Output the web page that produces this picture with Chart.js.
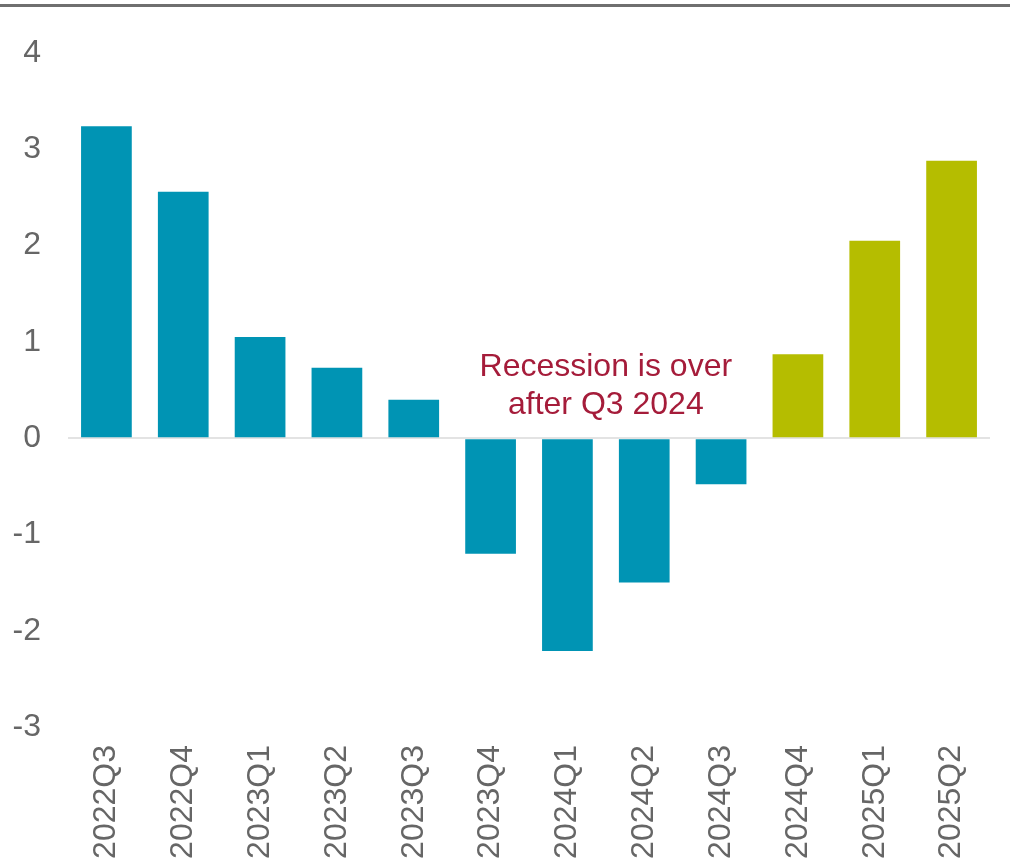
<!DOCTYPE html>
<html>
<head>
<meta charset="utf-8">
<script src="https://cdn.jsdelivr.net/npm/chart.js@4"></script>
<style>
  html, body { margin: 0; padding: 0; background: #fff; }
  #wrap { width: 1010px; height: 863px; }
</style>
</head>
<body>
<div id="wrap"><canvas id="chart" width="1010" height="863"></canvas></div>
<script>
const quarters = ['2022Q3', '2022Q4', '2023Q1', '2023Q2', '2023Q3', '2023Q4',
                  '2024Q1', '2024Q2', '2024Q3', '2024Q4', '2025Q1', '2025Q2'];
const growth = [3.24, 2.56, 1.05, 0.73, 0.40, -1.20, -2.21, -1.50, -0.48, 0.87, 2.05, 2.88];
const firstRecovery = '2024Q4';
const yTicks = [-3, -2, -1, 0, 1, 2, 3, 4];
const noteLines = ['Recession is over', 'after Q3 2024'];

const teal = '#0094b4';
const olive = '#b5bd00';
const grey = '#666666';
const font = '"Liberation Sans", Arial, sans-serif';

const recoveryIdx = quarters.indexOf(firstRecovery);
const barColors = quarters.map((q, i) => i >= recoveryIdx ? olive : teal);

// thick grey rule along the top + the red note
const extras = {
  id: 'extras',
  afterDraw(chart) {
    const ctx = chart.ctx;
    ctx.save();
    ctx.strokeStyle = '#6f6f6f';
    ctx.lineWidth = 3;
    ctx.beginPath();
    ctx.moveTo(0, 5.5);
    ctx.lineTo(chart.width, 5.5);
    ctx.stroke();

    const x = chart.scales.x.getPixelForValue(6.5);
    const y = chart.scales.y;
    ctx.fillStyle = '#a51c3a';
    ctx.font = '32px ' + font;
    ctx.textAlign = 'center';
    ctx.textBaseline = 'middle';
    ctx.fillText(noteLines[0], x, y.getPixelForValue(0.74));
    ctx.fillText(noteLines[1], x, y.getPixelForValue(0.34));
    ctx.restore();
  }
};

new Chart(document.getElementById('chart'), {
  type: 'bar',
  data: {
    labels: quarters,
    datasets: [{
      data: growth,
      backgroundColor: barColors,
      categoryPercentage: 1,
      barPercentage: 0.66
    }]
  },
  options: {
    responsive: false,
    animation: false,
    layout: { padding: { top: 53, left: 13, right: 20, bottom: 0 } },
    plugins: {
      legend: { display: false },
      tooltip: { enabled: false }
    },
    scales: {
      x: {
        grid: { display: false, drawTicks: false },
        border: { display: false },
        afterFit: (axis) => { axis.height = 136; },
        ticks: {
          color: grey,
          font: { family: font, size: 32 },
          minRotation: 90,
          maxRotation: 90,
          padding: 18
        }
      },
      y: {
        min: -3,
        max: 4,
        afterBuildTicks: (axis) => { axis.ticks = yTicks.map(v => ({ value: v })); },
        afterFit: (axis) => { axis.width = 55; },
        grid: {
          drawTicks: false,
          lineWidth: 2,
          color: (c) => c.tick && c.tick.value === 0 ? '#e3e3e3' : 'rgba(0,0,0,0)'
        },
        border: { display: false },
        ticks: {
          color: grey,
          font: { family: font, size: 32 },
          padding: 27
        }
      }
    }
  },
  plugins: [extras]
});
</script>
</body>
</html>
